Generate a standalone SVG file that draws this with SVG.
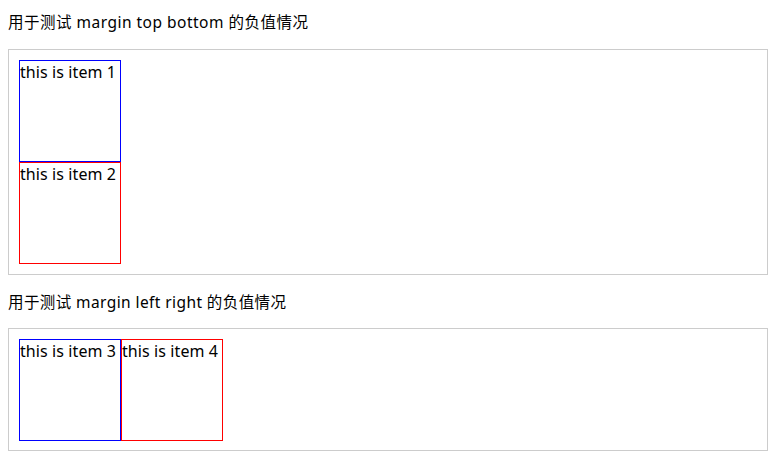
<svg xmlns="http://www.w3.org/2000/svg" width="782" height="463" viewBox="0 0 782 463">
<style>
.t{font-family:"Noto Sans","Noto Sans CJK SC",sans-serif;font-size:15.5px;fill:#000}
.it{font-family:"Noto Sans","Noto Sans CJK SC",sans-serif;font-size:16px;fill:#000}
.box{fill:none;stroke:#ccc;stroke-width:1}
.blue{fill:none;stroke:#00f;stroke-width:1}
.red{fill:none;stroke:#f00;stroke-width:1}
</style>
<rect width="782" height="463" fill="#fff"/>
<g id="title1"><text class="t" x="8" y="28" textLength="300" lengthAdjust="spacing">用于测试 margin top bottom 的负值情况</text></g>
<g id="container1"><rect class="box" x="8.5" y="49.5" width="759" height="225"/></g>
<g id="item1"><rect class="blue" x="19.5" y="60.5" width="101" height="101"/><text class="it" x="20" y="78" textLength="96" lengthAdjust="spacing">this is item 1</text></g>
<g id="item2"><rect class="red" x="19.5" y="162.5" width="101" height="101"/><text class="it" x="20" y="180" textLength="96" lengthAdjust="spacing">this is item 2</text></g>
<g id="title2"><text class="t" x="8" y="308" textLength="278" lengthAdjust="spacing">用于测试 margin left right 的负值情况</text></g>
<g id="container2"><rect class="box" x="8.5" y="328.5" width="759" height="122"/></g>
<g id="item3"><rect class="blue" x="19.5" y="339.5" width="101" height="101"/><text class="it" x="20" y="357" textLength="96" lengthAdjust="spacing">this is item 3</text></g>
<g id="item4"><rect class="red" x="121.5" y="339.5" width="101" height="101"/><text class="it" x="122" y="357" textLength="96" lengthAdjust="spacing">this is item 4</text></g>
<g id="connectors"></g>
</svg>
